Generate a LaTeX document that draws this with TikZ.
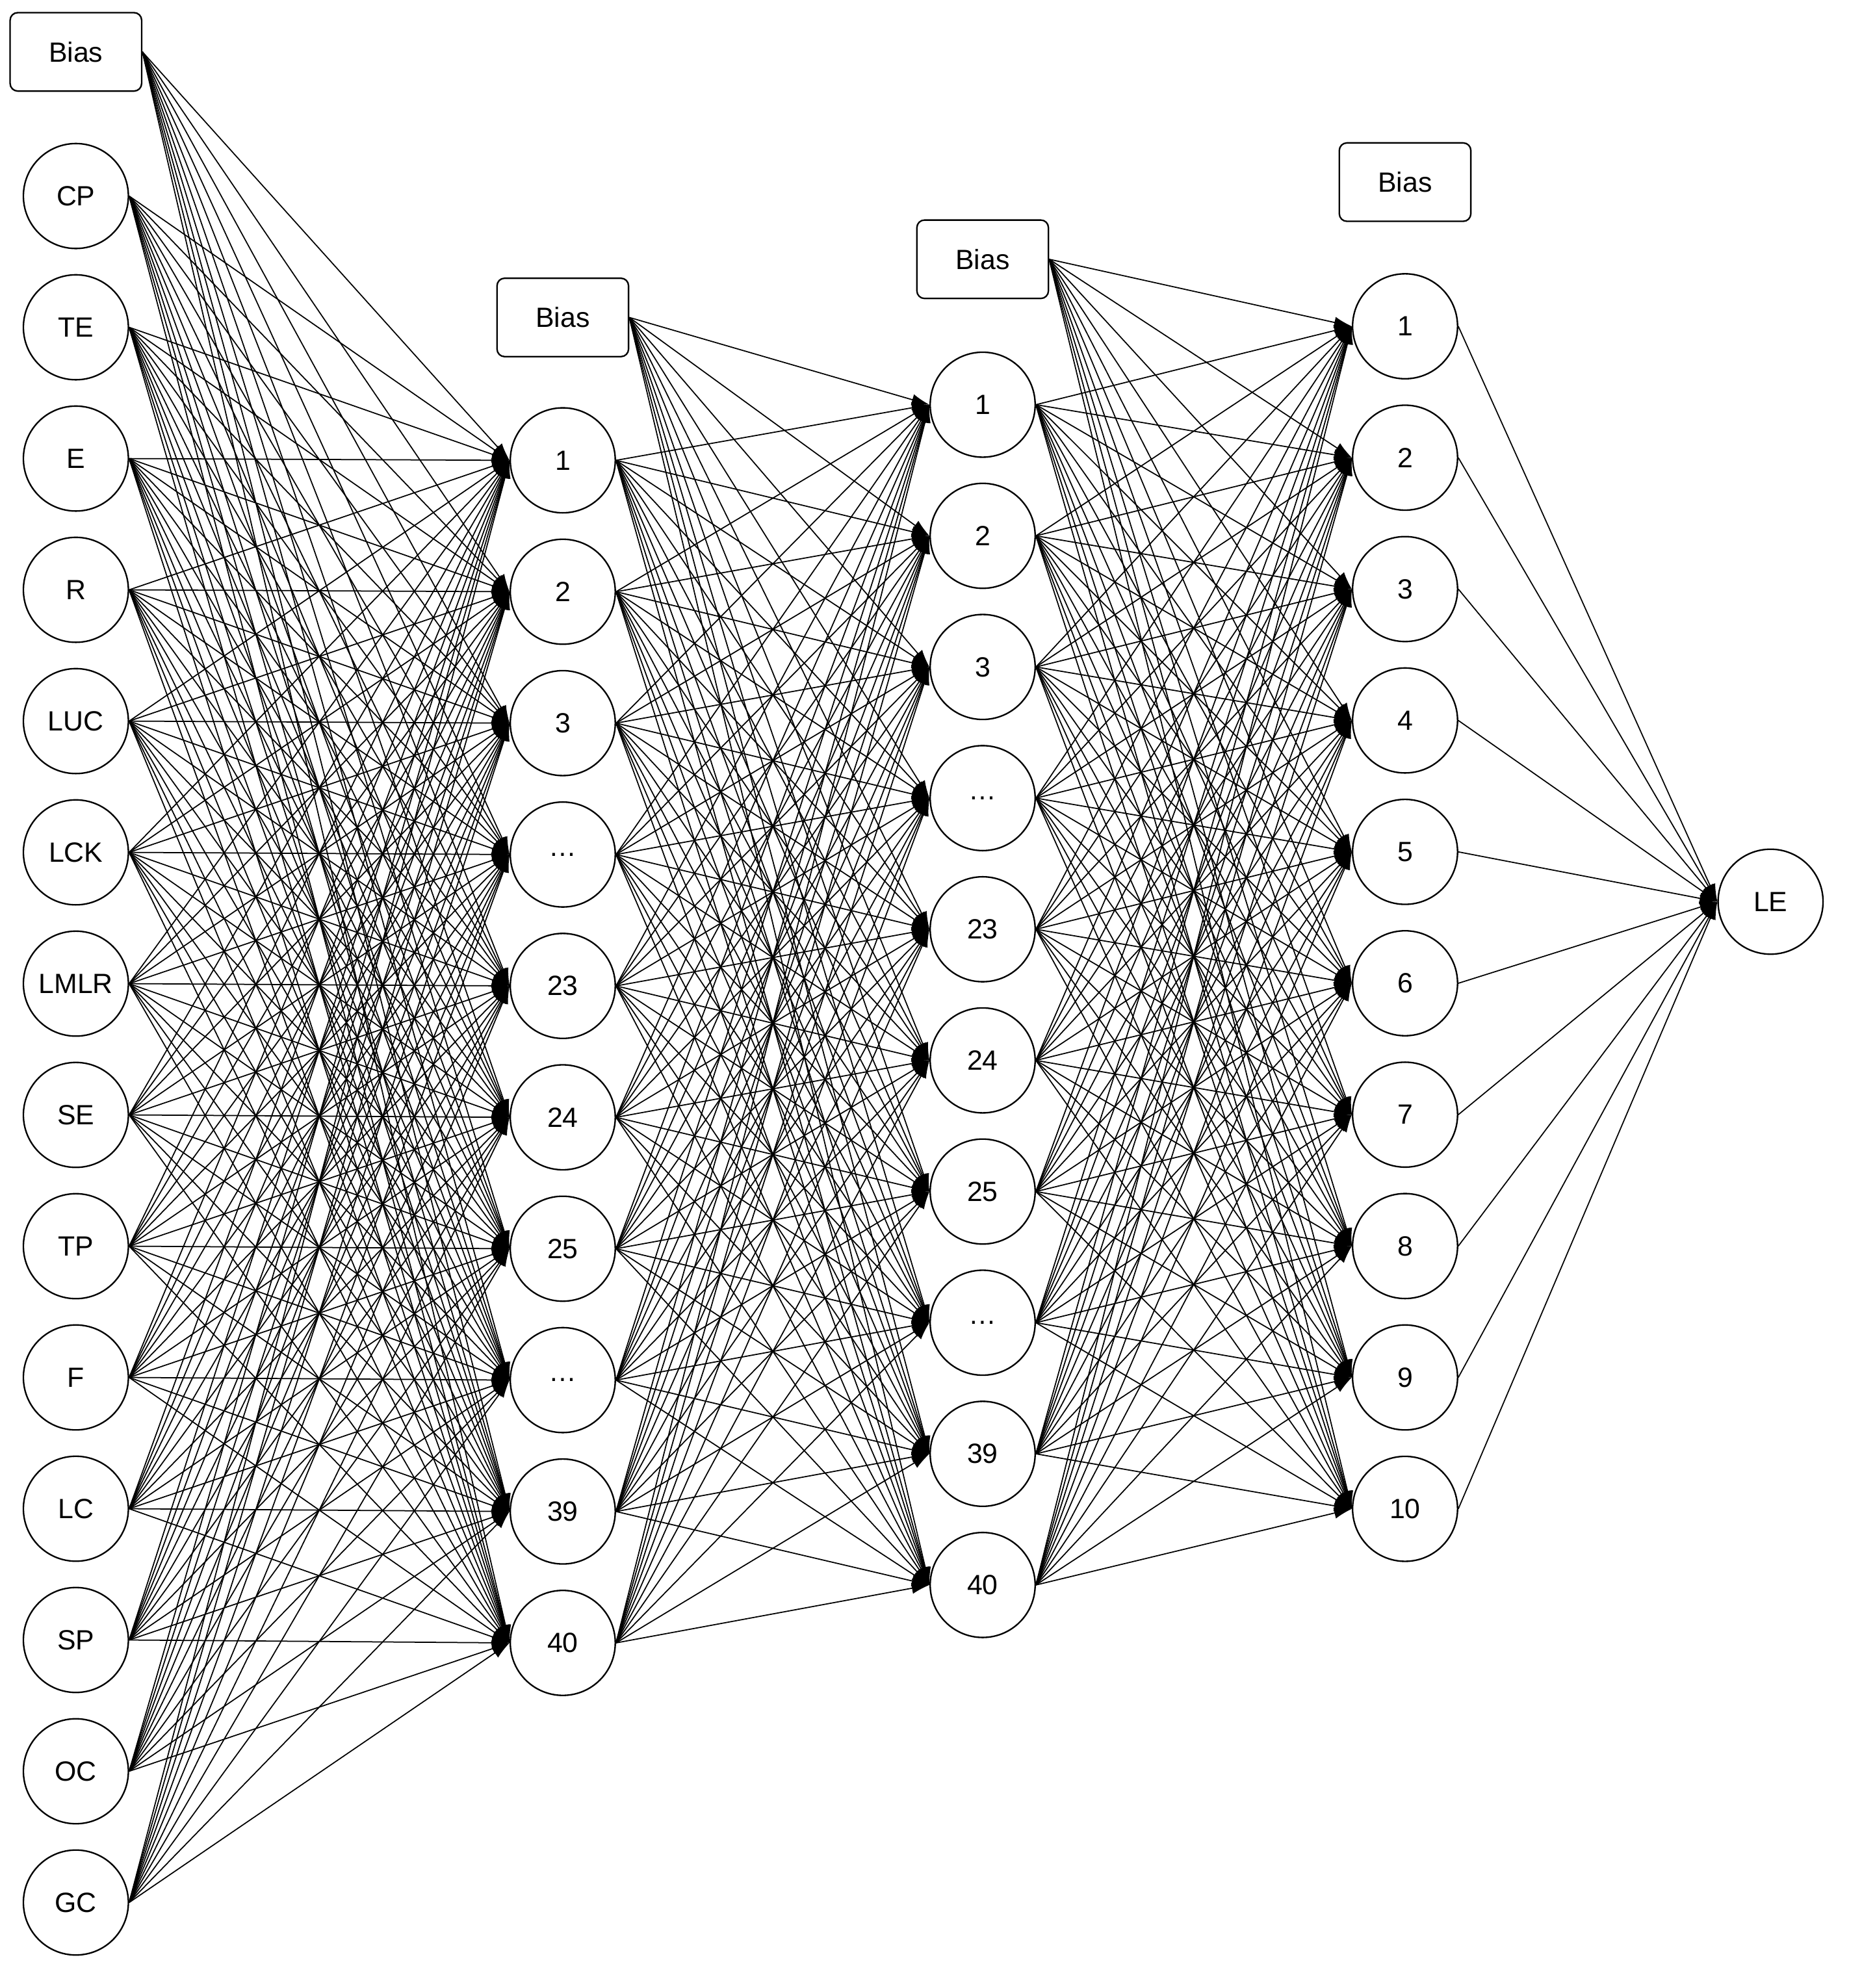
\documentclass[tikz,border=0pt]{standalone}
\usepackage{fontspec}
\setmainfont{Liberation Sans}
\usetikzlibrary{arrows.meta}
\begin{document}
\begin{tikzpicture}[x=1pt,y=-1pt,
  neuron/.style={circle,draw,line width=1.2pt,minimum size=83pt,inner sep=0pt,font=\fontsize{22}{24}\selectfont},
  bias/.style={rectangle,rounded corners=6pt,draw,line width=1.2pt,minimum width=104pt,minimum height=62pt,font=\fontsize{22}{24}\selectfont},
  conn/.style={line width=0.9pt,-{Latex[length=14pt,width=9pt]}}]
\useasboundingbox (0,0) rectangle (1462,1572);
% layer 0
\node[bias] (b0) at (60,41) {Bias};
\foreach \t [count=\i] in {CP,TE,E,R,LUC,LCK,LMLR,SE,TP,F,LC,SP,OC,GC}
  \node[neuron] (a\i) at (60,{155+(\i-1)*103.8}) {\t};
% layer 1
\node[bias] (b1) at (445,251) {Bias};
\foreach \t [count=\i] in {1,2,3,{\ldots},23,24,25,{\ldots},39,40}
  \node[neuron] (h\i) at (445,{364+(\i-1)*103.9}) {\t};
% layer 2
\node[bias] (b2) at (777,205) {Bias};
\foreach \t [count=\i] in {1,2,3,{\ldots},23,24,25,{\ldots},39,40}
  \node[neuron] (g\i) at (777,{320+(\i-1)*103.7}) {\t};
% layer 3
\node[bias] (b3) at (1111,144) {Bias};
\foreach \t [count=\i] in {1,2,3,4,5,6,7,8,9,10}
  \node[neuron] (k\i) at (1111,{258+(\i-1)*103.9}) {\t};
\node[neuron] (o) at (1400,713) {LE};
% connections
\foreach \j in {1,...,10} {
  \draw[conn] (b0.east) -- (h\j.west);
  \foreach \i in {1,...,14} \draw[conn] (a\i.east) -- (h\j.west);
  \draw[conn] (b1.east) -- (g\j.west);
  \foreach \i in {1,...,10} \draw[conn] (h\i.east) -- (g\j.west);
  \draw[conn] (b2.east) -- (k\j.west);
  \foreach \i in {1,...,10} \draw[conn] (g\i.east) -- (k\j.west);
  \draw[conn] (k\j.east) -- (o.west);
}
\end{tikzpicture}
\end{document}
